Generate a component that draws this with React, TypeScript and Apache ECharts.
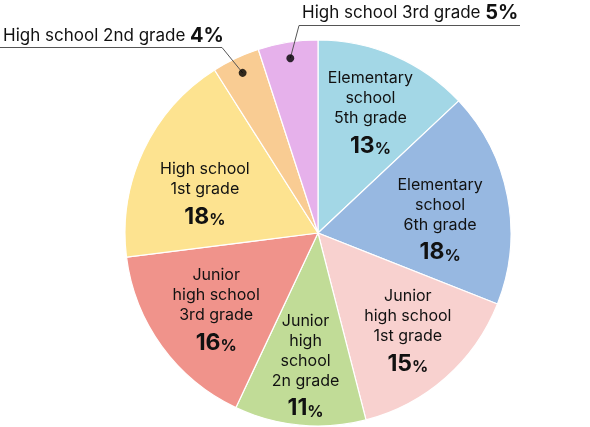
import React, { useEffect, useRef } from "react";
import * as echarts from "echarts";

const categories = [
  "Elementary\nschool\n5th grade",
  "Elementary\nschool\n6th grade",
  "Junior\nhigh school\n1st grade",
  "Junior\nhigh\nschool\n2n grade",
  "Junior\nhigh school\n3rd grade",
  "High school\n1st grade",
  "High school 2nd grade",
  "High school 3rd grade",
];
const values = [13, 18, 15, 11, 16, 18, 4, 5];
const colors = ["#a3d7e6", "#97b8e1", "#f8d1cf", "#c1dc97", "#f0938b", "#fde390", "#f9cc93", "#e6b1eb"];
const outsideIdx = [6, 7];

// layout only: distance / angular shift of each inside label block
const labelDist = [132, 123, 132, 132, 127, 120, 0, 0];
const labelShiftDeg = [0, 3.8, -1.5, 0, -0.7, -5.7, 0, 0];

const FONT = "Inter, 'Noto Sans', sans-serif";
const CX = 318;
const CY = 233;
const R = 193;
const DOT_R = 177;

export default function App() {
  const ref = useRef<HTMLDivElement>(null);
  useEffect(() => {
    const chart = echarts.init(ref.current!, undefined, { renderer: "svg" });
    const total = values.reduce((a, b) => a + b, 0);
    let acc = 0;
    const mids: number[] = values.map((v) => {
      const m = acc + v / 2;
      acc += v;
      return (m / total) * 100;
    });
    const pt = (pct: number, r: number, shiftDeg = 0) => {
      const a = (pct / 100) * Math.PI * 2 + (shiftDeg * Math.PI) / 180;
      return [CX + r * Math.sin(a), CY - r * Math.cos(a)];
    };

    const labelData = categories.map((name, i) => {
      const outside = outsideIdx.includes(i);
      return {
        name,
        value: values[i],
        label: outside
          ? {
              position: "outside",
              formatter: () => `{e|${name} }{b|${values[i]}%}`,
            }
          : { position: "inside" },
        labelLine: { show: outside },
      };
    });

    chart.setOption({
      animation: false,
      polar: { center: [CX, CY], radius: R },
      angleAxis: { type: "value", min: 0, max: 100, startAngle: 90, clockwise: true, show: false },
      radiusAxis: { type: "value", min: 0, max: 1, show: false },
      series: [
        {
          type: "pie",
          z: 1,
          center: [CX, CY],
          radius: [0, R],
          startAngle: 90,
          clockwise: true,
          silent: true,
          label: { show: false },
          labelLine: { show: false },
          itemStyle: { borderColor: "#ffffff", borderWidth: 1.2 },
          data: categories.map((name, i) => ({ name, value: values[i], itemStyle: { color: colors[i] } })),
        },
        {
          type: "pie",
          z: 3,
          center: [CX, CY],
          radius: [80, DOT_R],
          startAngle: 90,
          clockwise: true,
          silent: true,
          avoidLabelOverlap: false,
          itemStyle: { color: "rgba(0,0,0,0)" },
          label: {
            show: true,
            formatter: (p: any) =>
              p.name
                .split("\n")
                .map((s: string) => `{t|${s}}`)
                .join("\n") + `\n{n|${p.value}}{p|%}`,
            rich: {
              t: { fontFamily: FONT, fontSize: 16, lineHeight: 20, color: "#111", align: "center" },
              n: { fontFamily: FONT, fontSize: 23, fontWeight: "bold", lineHeight: 29, color: "#111", verticalAlign: "bottom" },
              p: { fontFamily: FONT, fontSize: 16, fontWeight: "bold", lineHeight: 26, color: "#111", verticalAlign: "bottom" },
              e: { fontFamily: FONT, fontSize: 17, color: "#111", lineHeight: 23 },
              b: { fontFamily: FONT, fontSize: 20, fontWeight: "bold", color: "#111", lineHeight: 23 },
            },
          },
          labelLine: { show: false, lineStyle: { color: "#555", width: 1 } },
          labelLayout: (params: any) => {
            const i = params.dataIndex;
            if (i === 6) {
              return {
                x: 3,
                y: 46,
                align: "left",
                verticalAlign: "bottom",
                labelLinePoints: [pt(mids[i], DOT_R), [222, 47.5], [0, 47.5]],
              };
            }
            if (i === 7) {
              return {
                x: 302,
                y: 23,
                align: "left",
                verticalAlign: "bottom",
                labelLinePoints: [pt(mids[i], DOT_R), [299, 25.5], [520, 25.5]],
              };
            }
            const [x, y] = pt(mids[i], labelDist[i], labelShiftDeg[i]);
            return { x, y, align: "center", verticalAlign: "middle" };
          },
          data: labelData,
        },
        {
          type: "scatter",
          z: 4,
          coordinateSystem: "polar",
          silent: true,
          symbolSize: 8,
          itemStyle: { color: "#000" },
          data: outsideIdx.map((i) => [DOT_R / R, mids[i]]),
        },
      ],
    });
    return () => chart.dispose();
  }, []);
  return <div ref={ref} style={{ position: "fixed", left: 0, top: 0, width: 590, height: 427 }} />;
}
